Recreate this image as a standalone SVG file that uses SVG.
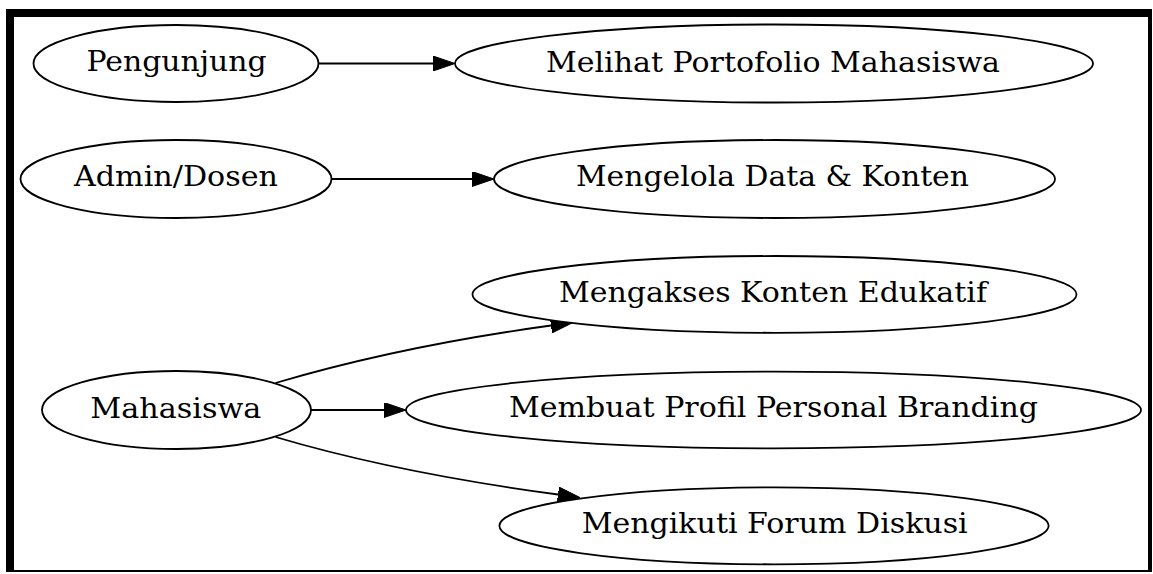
<svg xmlns="http://www.w3.org/2000/svg" width="1153" height="574" viewBox="0 0 1153 574">
  <style>
    .node ellipse { fill: #ffffff; stroke: #000000; stroke-width: 1.8; }
    .node text { font-family: "DejaVu Serif", "Liberation Serif", serif; font-size: 27px; fill: #000000; text-anchor: middle; }
    .edge { fill: none; stroke: #000000; stroke-width: 1.8; marker-end: url(#arrow); }
  </style>
  <defs>
    <marker id="arrow" viewBox="0 0 22 15" refX="0" refY="7.5" markerWidth="22" markerHeight="15" markerUnits="userSpaceOnUse" orient="auto">
      <path d="M0,0 L22,7.5 L0,15 Z" fill="#000000" stroke="#000000" stroke-width="1"/>
    </marker>
  </defs>
  <rect x="0" y="0" width="1153" height="574" fill="#ffffff"/>
  <path d="M6,9 H1152 V572 H6 Z M14,17 V570 H1148 V17 Z" fill="#000000" fill-rule="evenodd"/>

  <g id="connectors">
    <path class="edge" d="M318,63.5 L433,63.5"/>
    <path class="edge" d="M331.7,179 L472,179"/>
    <path class="edge" d="M311,410 L384,410"/>
    <path class="edge" d="M275.5,383 C360,358 460,338 551,325.5"/>
    <path class="edge" d="M275.5,437 C360,462 465,482 558,494.5"/>
  </g>

  <g id="node-pengunjung" class="node">
    <ellipse cx="176" cy="63.5" rx="142.5" ry="38.5"/>
    <text x="176.5" y="70.5" textLength="180" lengthAdjust="spacingAndGlyphs">Pengunjung</text>
  </g>
  <g id="node-melihat" class="node">
    <ellipse cx="774" cy="63.5" rx="319" ry="39"/>
    <text x="773" y="71.5" textLength="454" lengthAdjust="spacingAndGlyphs">Melihat Portofolio Mahasiswa</text>
  </g>
  <g id="node-admin" class="node">
    <ellipse cx="176" cy="179" rx="155.5" ry="39"/>
    <text x="176" y="185.5" textLength="204" lengthAdjust="spacingAndGlyphs">Admin/Dosen</text>
  </g>
  <g id="node-mengelola" class="node">
    <ellipse cx="774.5" cy="179" rx="280.5" ry="39"/>
    <text x="772.5" y="186" textLength="393" lengthAdjust="spacingAndGlyphs">Mengelola Data &amp; Konten</text>
  </g>
  <g id="node-mengakses" class="node">
    <ellipse cx="774.5" cy="294.4" rx="302" ry="38.4"/>
    <text x="773" y="302.3" textLength="428" lengthAdjust="spacingAndGlyphs">Mengakses Konten Edukatif</text>
  </g>
  <g id="node-mahasiswa" class="node">
    <ellipse cx="176.5" cy="410" rx="134.5" ry="39"/>
    <text x="175.8" y="417.5" textLength="171" lengthAdjust="spacingAndGlyphs">Mahasiswa</text>
  </g>
  <g id="node-membuat" class="node">
    <ellipse cx="773.5" cy="410" rx="367.5" ry="38.3"/>
    <text x="773.5" y="417" textLength="529" lengthAdjust="spacingAndGlyphs">Membuat Profil Personal Branding</text>
  </g>
  <g id="node-mengikuti" class="node">
    <ellipse cx="774" cy="525.8" rx="274.6" ry="38.5"/>
    <text x="774.7" y="533" textLength="386" lengthAdjust="spacingAndGlyphs">Mengikuti Forum Diskusi</text>
  </g>
</svg>
